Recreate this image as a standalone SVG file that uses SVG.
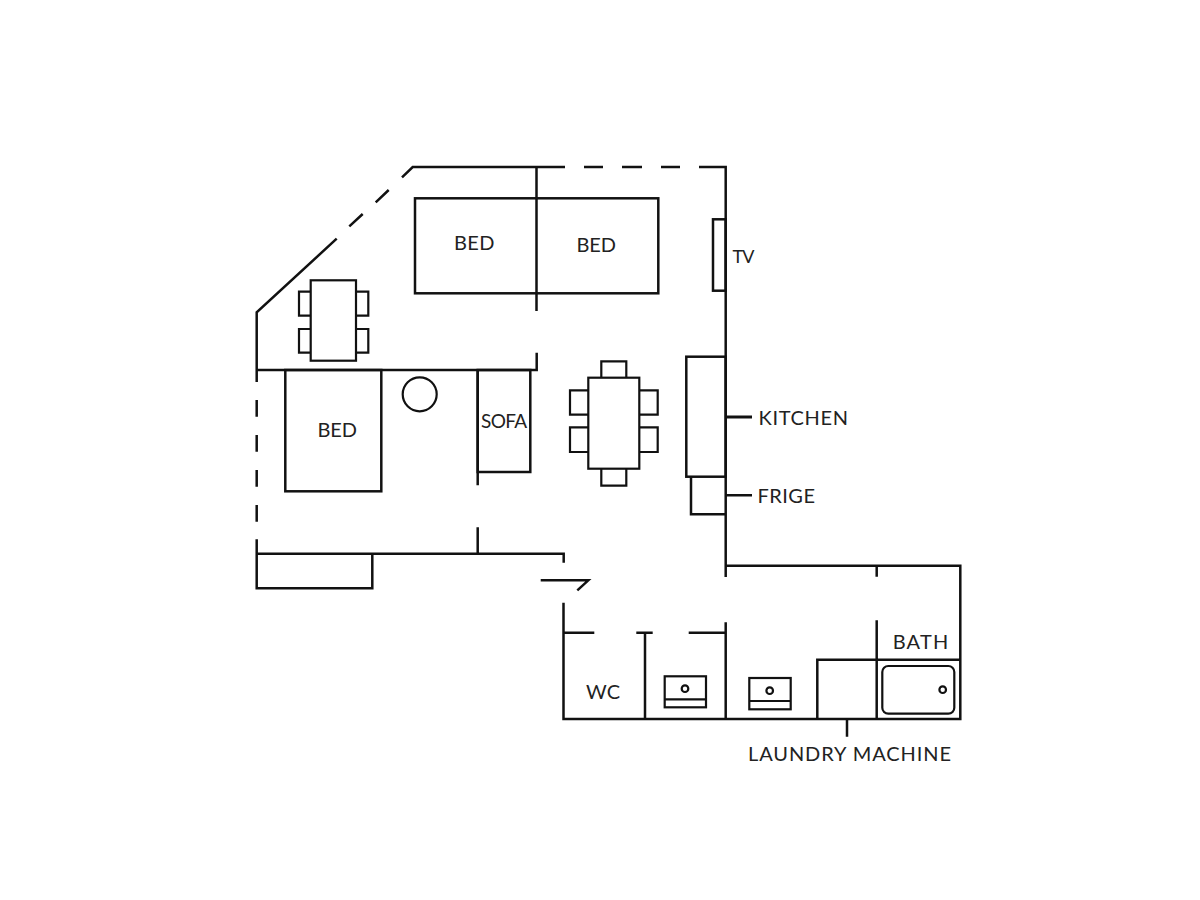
<svg xmlns="http://www.w3.org/2000/svg" width="1200" height="900" viewBox="0 0 1200 900">
<style>
.w{fill:none;stroke:#111;stroke-width:2.5;stroke-linecap:butt;stroke-linejoin:miter}
.t{fill:none;stroke:#111;stroke-width:2.2}
text{font-family:"Lato","Liberation Sans",sans-serif;font-size:20px;fill:#222;letter-spacing:0.5px}
</style>
<rect width="1200" height="900" fill="#fff"/>
<g id="walls" class="w">
<path d="M402 177.3L412.7 167H565M584 167H603M622 167H642M661 167H680M699 167H725.7V577"/>
<path d="M388.7 190L375.7 202.3M362.7 214L349.3 226.3M336.7 238.7L256.7 312.3V382M256.7 400V416.7M256.7 435V451.7M256.7 470V486.7M256.7 505V521.7M256.7 539.3V588.3H372.3V553.7"/>
<path d="M256.7 370H536.7V352.7M536.5 167V311"/>
<path d="M477.7 370V485.3M477.7 527.3V553.7M256.7 553.7H563.7V562.7"/>
<path d="M540.7 580.3H588.3L577.3 590.3"/>
<path d="M563.5 602.7V719H960.3V565.7H725.7M876.7 565.7V576.7M876.7 620.3V719M817.3 719V659.7H960.3"/>
<path d="M563.5 632.7H594.3M636.3 632.7H652.7M688.7 632.7H725.7M645 632.7V719M725.7 622.3V719"/>
<path d="M847 719V736.7M725.7 495.3H752"/>
<path d="M725.7 417H752" stroke-width="3"/>
</g>
<g id="furniture" class="w">
<rect x="415" y="198.3" width="243.3" height="95"/>
<rect x="285.3" y="370" width="96" height="121.3"/>
<rect x="477.7" y="370" width="52.6" height="102"/>
<circle cx="419.7" cy="394.3" r="17" class="t"/>
<rect x="713" y="219.3" width="12.7" height="71.4"/>
<rect x="686.3" y="356.7" width="39.4" height="120"/>
<path d="M691 476.7V514.3H725.7"/>
</g>
<g id="small-table" class="t">
<rect x="310.7" y="280.3" width="45.3" height="80.4"/>
<path d="M310.7 291.7H299V315.7H310.7M310.7 329H299V352.7H310.7M356 291.7H368.3V315.7H356M356 329H368.3V352.7H356"/>
</g>
<g id="dining-table" class="t">
<rect x="588.3" y="377.7" width="51" height="91"/>
<path d="M601.3 377.7V361.3H626.3V377.7M601.3 468.7V485.7H626.3V468.7M588.3 390.3H570V414.7H588.3M588.3 427.3H570V452H588.3M639.3 390.3H657.7V414.7H639.3M639.3 427.3H657.7V452H639.3"/>
</g>
<g id="bathroom" class="t">
<rect x="664.7" y="676.3" width="41.3" height="31"/><path d="M664.7 699.3H706"/><circle cx="685" cy="688.7" r="3.3"/>
<rect x="749.3" y="678" width="41.4" height="31.3"/><path d="M749.3 701H790.7"/><circle cx="769.7" cy="690.7" r="3.3"/>
<rect x="882.3" y="666" width="72" height="47.7" rx="6"/><circle cx="942.7" cy="689.7" r="3.3"/>
</g>
<g id="labels">
<text x="454" y="250" textLength="41" lengthAdjust="spacing">BED</text>
<text x="576.5" y="252" textLength="40" lengthAdjust="spacing">BED</text>
<text x="317.5" y="436.7" textLength="40" lengthAdjust="spacing">BED</text>
<text x="481" y="427.7" textLength="46" lengthAdjust="spacing" style="font-size:19px;letter-spacing:0">SOFA</text>
<text x="732.5" y="262.7" textLength="22" lengthAdjust="spacing" style="font-size:18px;letter-spacing:0">TV</text>
<text x="758.5" y="425" textLength="90" lengthAdjust="spacing">KITCHEN</text>
<text x="757.5" y="502.7" textLength="58" lengthAdjust="spacing">FRIGE</text>
<text x="586" y="698.7" textLength="34.5" lengthAdjust="spacing">WC</text>
<text x="892.7" y="649.3" textLength="56" lengthAdjust="spacing">BATH</text>
<text x="748" y="760.7" textLength="203.5" lengthAdjust="spacing">LAUNDRY MACHINE</text>
</g>
</svg>
